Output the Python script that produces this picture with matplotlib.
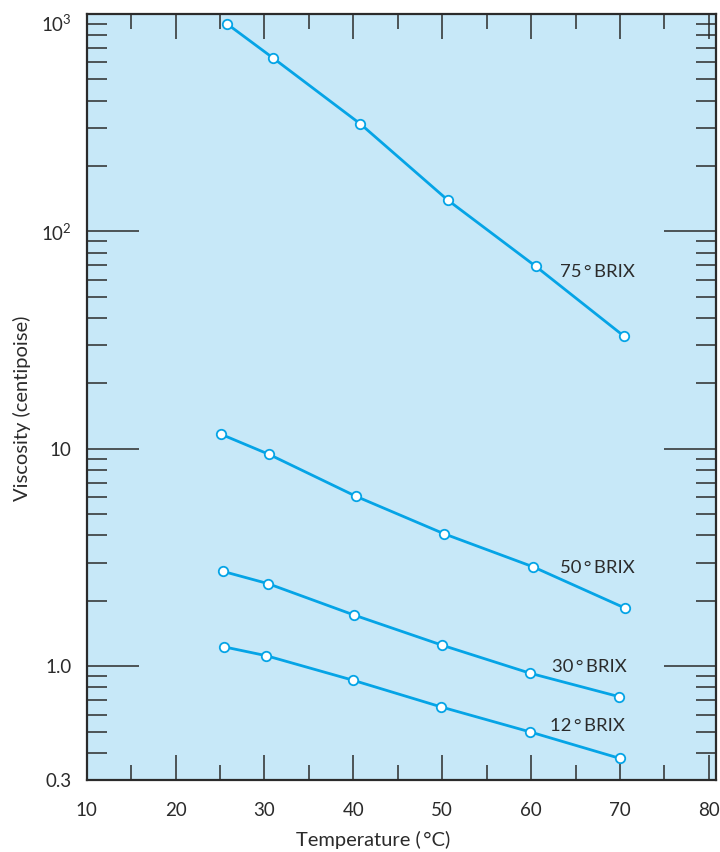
import matplotlib
matplotlib.use("Agg")
import matplotlib.pyplot as plt
from matplotlib.ticker import FixedLocator, NullFormatter
import numpy as np

plt.rcParams['font.family'] = ['Lato', 'DejaVu Sans']
plt.rcParams['mathtext.fontset'] = 'custom'
plt.rcParams['mathtext.rm'] = 'Lato'
plt.rcParams['mathtext.it'] = 'Lato:italic'

# data (temperature in C, viscosity in centipoise)
temp_75 = [25.8, 31.0, 40.8, 50.6, 60.5, 70.4]
visc_75 = [900, 626, 312, 139.6, 69.2, 33.1]

temp_50 = [25.1, 30.5, 40.3, 50.2, 60.2, 70.6]
visc_50 = [11.68, 9.44, 6.05, 4.07, 2.87, 1.85]

temp_30 = [25.3, 30.4, 40.1, 50.0, 59.9, 69.9]
visc_30 = [2.735, 2.40, 1.72, 1.25, 0.929, 0.725]

temp_12 = [25.4, 30.2, 40.0, 49.9, 59.9, 70.0]
visc_12 = [1.23, 1.119, 0.862, 0.650, 0.499, 0.377]

series_labels = ['75\u2009°\u2009BRIX', '50\u2009°\u2009BRIX', '30\u2009°\u2009BRIX', '12\u2009°\u2009BRIX']
label_x = [63.3, 63.3, 62.4, 62.1]
label_y = [64.8, 2.83, 0.993, 0.529]

x_ticks = [10, 20, 30, 40, 50, 60, 70, 80]
y_ticks = [0.3, 1.0, 10, 100, 1000]
y_tick_labels = ['0.3', '1.0', '10', '$10^2$', '$10^3$']

line_color = '#05a4e6'
bg_color = '#c7e8f8'
ink = '#2b2b2b'

fig = plt.figure(figsize=(7.2, 8.52), dpi=100)
ax = fig.add_axes([86.7 / 720, 72 / 852, (716 - 86.7) / 720, (780 - 14) / 852])
ax.set_facecolor(bg_color)

for t, v in [(temp_75, visc_75), (temp_50, visc_50), (temp_30, visc_30), (temp_12, visc_12)]:
    ax.plot(t, v, color=line_color, lw=2.0, marker='o', ms=6.8,
            mfc='white', mec=line_color, mew=1.3, zorder=3, clip_on=False)

for lab, lx, ly in zip(series_labels, label_x, label_y):
    ax.text(lx, ly, lab, ha='left', va='center', fontsize=13.3, color=ink)

ax.set_yscale('log')
ax.set_xlim(10, 80.8)
ax.set_ylim(0.3, 1000)

ax.xaxis.set_major_locator(FixedLocator(x_ticks))
ax.xaxis.set_minor_locator(FixedLocator(np.arange(15, 80, 10)))
ax.set_xticklabels([str(t) for t in x_ticks])

ax.yaxis.set_major_locator(FixedLocator(y_ticks))
ax.set_yticklabels(y_tick_labels)
minor = [m * 10.0 ** e for e in range(-1, 3) for m in range(2, 10) if 0.3 < m * 10.0 ** e < 1000]
minor = [m for m in minor if abs(m - 0.3) > 1e-9]
ax.yaxis.set_minor_locator(FixedLocator(minor))
ax.yaxis.set_minor_formatter(NullFormatter())

ax.tick_params(axis='x', which='major', direction='in', length=18, width=1.1,
               color=ink, top=True, labelsize=13.5, labelcolor=ink, pad=16)
ax.tick_params(axis='x', which='minor', direction='in', length=10.8, width=1.1,
               color=ink, top=True)
ax.tick_params(axis='y', which='major', direction='in', length=37.5, width=1.1,
               color=ink, right=True, labelsize=13.5, labelcolor=ink, pad=11)
ax.tick_params(axis='y', which='minor', direction='in', length=14.5, width=1.1,
               color=ink, right=True)

# the 10^3 label sits a little below the top edge in the original
ax.get_yticklabels()[-1].set_va('top')

for s in ax.spines.values():
    s.set_linewidth(1.6)
    s.set_color(ink)

fig.text(373.5 / 720, 1 - 840 / 852, 'Temperature (\u2009°C)', ha='center', va='center',
         fontsize=14.5, color=ink)
fig.text(22 / 720, 1 - 408 / 852, 'Viscosity (centipoise)', ha='center', va='center',
         rotation=90, fontsize=14.5, color=ink)

fig.savefig('out.png', dpi=100, facecolor='white')
